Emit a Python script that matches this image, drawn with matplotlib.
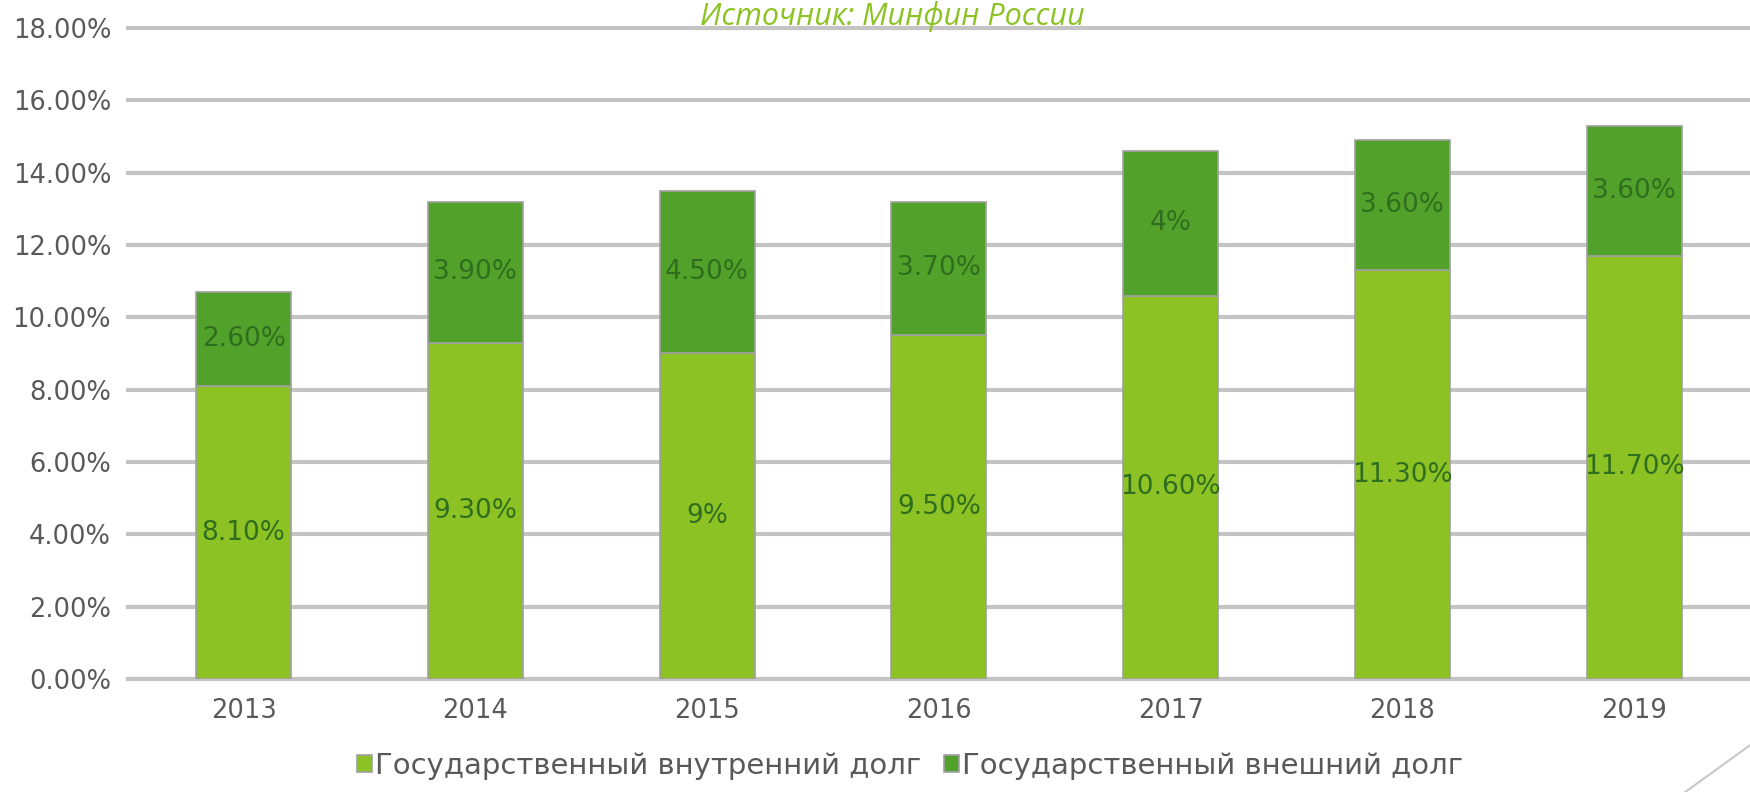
import matplotlib.pyplot as plt
from matplotlib.lines import Line2D
import numpy as np

years = ['2013', '2014', '2015', '2016', '2017', '2018', '2019']
internal_debt = [8.1, 9.3, 9.0, 9.5, 10.6, 11.3, 11.7]
external_debt = [2.6, 3.9, 4.5, 3.7, 4.0, 3.6, 3.6]
internal_labels = ['8.10%', '9.30%', '9%', '9.50%', '10.60%', '11.30%', '11.70%']
external_labels = ['2.60%', '3.90%', '4.50%', '3.70%', '4%', '3.60%', '3.60%']

light_green = '#8cc224'
dark_green = '#52a12a'
label_color = '#2f6e1e'

plt.rcParams['font.family'] = ['DejaVu Sans']

fig = plt.figure(figsize=(17.5, 7.92), dpi=100)
ax = fig.add_axes([0.073, 0.1427, 0.927, 0.822])

x = np.arange(len(years))
width = 0.41
ax.bar(x, internal_debt, width, color=light_green, edgecolor='#a0a0a0',
       linewidth=1.2, label='Государственный внутренний долг', zorder=2)
ax.bar(x, external_debt, width, bottom=internal_debt, color=dark_green,
       edgecolor='#a0a0a0', linewidth=1.2, label='Государственный внешний долг', zorder=2)

for xi, v, lab in zip(x, internal_debt, internal_labels):
    ax.text(xi, v / 2, lab, ha='center', va='center', fontsize=19,
            color=label_color, zorder=3)
for xi, b, v, lab in zip(x, internal_debt, external_debt, external_labels):
    ax.text(xi, b + v / 2, lab, ha='center', va='center', fontsize=19,
            color=label_color, zorder=3)

ax.set_xlim(-0.5, len(years) - 0.5)
ax.set_ylim(0, 18)
yt = np.arange(0, 18.1, 2)
ax.set_yticks(yt)
ax.set_yticklabels([f'{v:.2f}%' for v in yt])
ax.set_xticks(x)
ax.set_xticklabels(years)
ax.tick_params(axis='both', length=0, labelsize=18.5, colors='#595959')
ax.tick_params(axis='x', pad=14)
ax.tick_params(axis='y', pad=12)
ax.yaxis.grid(True, color='#c4c4c4', linewidth=3, zorder=0)
for gl in ax.get_ygridlines():
    gl.set_clip_on(False)
ax.set_axisbelow(True)
for s in ax.spines.values():
    s.set_visible(False)

ax.legend(loc='lower center', bbox_to_anchor=(0.52, -0.018), bbox_transform=fig.transFigure,
          ncol=2, frameon=False, fontsize=21, handlelength=0.5, handleheight=0.5,
          handletextpad=0.1, columnspacing=0.8, labelcolor='#595959')

fig.text(0.51, 0.999, 'Источник: Минфин России', ha='center', va='top',
         fontsize=22, style='italic', color='#8cc224', family=['Open Sans', 'DejaVu Sans'])

fig.add_artist(Line2D([0.963, 1.0], [0.0, 0.059], transform=fig.transFigure,
                      color='#c8c8c8', linewidth=1.5))

fig.savefig('out.png', dpi=100)
